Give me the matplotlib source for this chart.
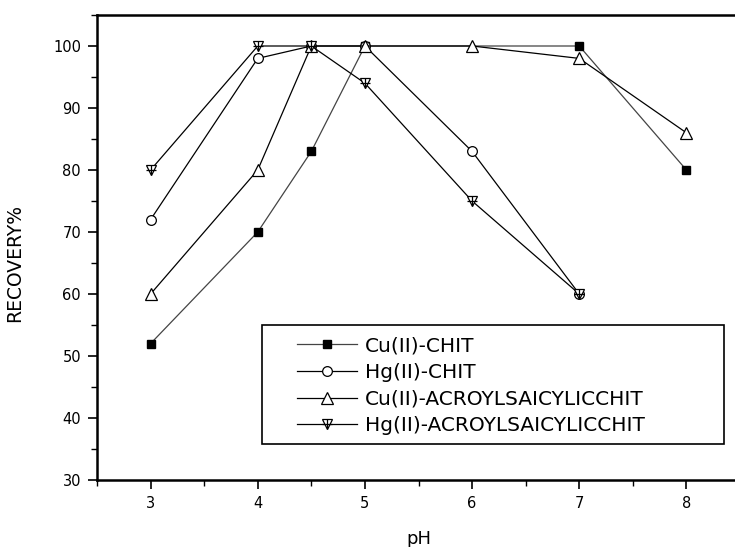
import matplotlib
matplotlib.use("Agg")
import matplotlib.pyplot as plt
from matplotlib.ticker import MultipleLocator
from matplotlib.patches import Rectangle

plt.rcParams['font.family'] = ['DejaVu Sans']

# Data
ph_cu_chit = [3, 4, 4.5, 5, 7, 8]
rec_cu_chit = [52, 70, 83, 100, 100, 80]

ph_hg_chit = [3, 4, 4.5, 5, 6, 7]
rec_hg_chit = [72, 98, 100, 100, 83, 60]

ph_cu_acr = [3, 4, 4.5, 5, 6, 7, 8]
rec_cu_acr = [60, 80, 100, 100, 100, 98, 86]

ph_hg_acr = [3, 4, 4.5, 5, 6, 7]
rec_hg_acr = [80, 100, 100, 94, 75, 60]

labels = ["Cu(II)-CHIT", "Hg(II)-CHIT",
          "Cu(II)-ACROYLSAICYLICCHIT", "Hg(II)-ACROYLSAICYLICCHIT"]
x_ticks = [3, 4, 5, 6, 7, 8]
y_ticks = [30, 40, 50, 60, 70, 80, 90, 100]

W, H = 735, 547
L, R, T, B = 97, 740, 15, 480
fig = plt.figure(figsize=(W / 100, H / 100), dpi=100)
ax = fig.add_axes([L / W, (H - B) / H, (R - L) / W, (B - T) / H])

l1, = ax.plot(ph_cu_chit, rec_cu_chit, color='#444444', lw=0.9, marker='s', ms=5.5,
              mfc='black', mec='black', zorder=2)
l2, = ax.plot(ph_hg_chit, rec_hg_chit, color='black', lw=0.9, marker='o', ms=7,
              mfc='white', mec='black', mew=0.9, zorder=3)
l3, = ax.plot(ph_cu_acr, rec_cu_acr, color='black', lw=0.9, marker='^', ms=8,
              mfc='white', mec='black', mew=0.9, zorder=4)
l4, = ax.plot(ph_hg_acr, rec_hg_acr, color='black', lw=0.9, marker='v', ms=7,
              mfc='white', mec='black', mew=0.9, zorder=5)
l4b, = ax.plot(ph_hg_acr, rec_hg_acr, ls='none', marker='+', ms=7,
               mec='black', mew=0.9, zorder=6)

ax.set_xlim(2.5, 8.5)
ax.set_ylim(30, 105)
ax.set_xticks(x_ticks)
ax.set_yticks(y_ticks)
ax.xaxis.set_minor_locator(MultipleLocator(0.5))
ax.yaxis.set_minor_locator(MultipleLocator(5))
ax.tick_params(axis='both', which='major', direction='out', length=6.5, width=1.2,
               labelsize=10.5, colors='black')
ax.tick_params(axis='both', which='minor', direction='out', length=4, width=1.0)
ax.tick_params(axis='x', which='major', pad=5)
ax.tick_params(axis='y', which='major', pad=5)

for s in ax.spines.values():
    s.set_linewidth(1.8)
    s.set_color('black')

ax.set_xlabel('pH', fontsize=13, labelpad=14)
ax.set_ylabel('RECOVERY%', fontsize=13.5)
ax.yaxis.set_label_coords((24 - L) / (R - L), (B - 263) / (B - T))

# legend frame
ax.add_patch(Rectangle(((262 - L) / (R - L), (B - 444) / (B - T)),
                       (724 - 262) / (R - L), (444 - 325) / (B - T),
                       transform=ax.transAxes, fill=True, facecolor='white',
                       edgecolor='black', lw=1.2, zorder=10))

leg = ax.legend([l1, l2, l3, (l4, l4b)], labels, loc='center left',
                bbox_to_anchor=((297 - L) / (R - L), (B - 386) / (B - T)),
                fontsize=14.5, frameon=False, handlelength=2.98, handletextpad=0.4,
                labelspacing=0.38, borderpad=0, borderaxespad=0)
leg.set_zorder(11)

fig.savefig('out.png', dpi=100)
